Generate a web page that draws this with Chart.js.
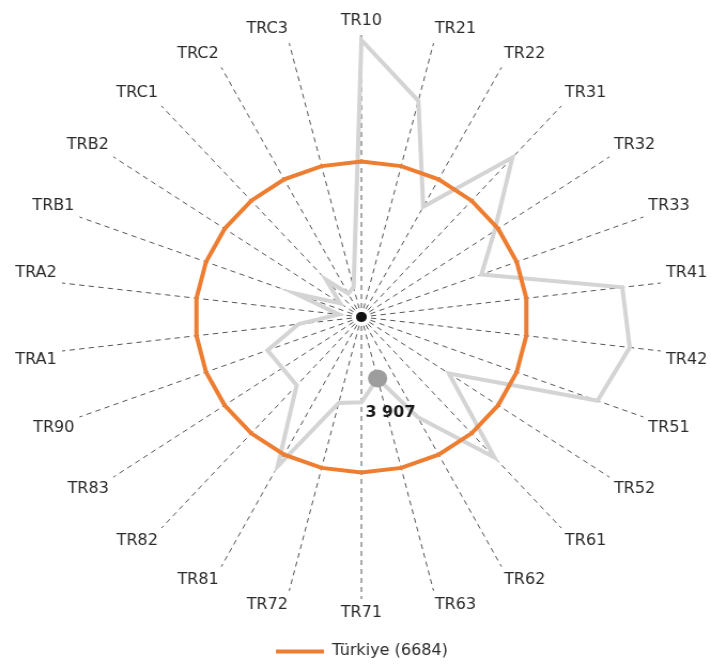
<!DOCTYPE html>
<html>
<head>
<meta charset="utf-8">
<title>Radar</title>
<script src="https://cdn.jsdelivr.net/npm/chart.js@4.4.1/dist/chart.umd.min.js"></script>
<style>
  html, body { margin: 0; padding: 0; background: #ffffff; overflow: hidden; }
</style>
</head>
<body>
<!-- the reference picture is slightly wider than tall, so the canvas gets stretched a bit -->
<canvas id="radarChart" width="665" height="669" style="display:block;width:711px;height:669px"></canvas>
<script>
// DATA
var regions = ["TR10", "TR21", "TR22", "TR31", "TR32", "TR33", "TR41", "TR42", "TR51", "TR52",
               "TR61", "TR62", "TR63", "TR71", "TR72", "TR81", "TR82", "TR83", "TR90", "TRA1",
               "TRA2", "TRB1", "TRB2", "TRC1", "TRC2", "TRC3"];
var regionValues = [10350, 8710, 5750, 8420, 6560, 5620, 9410, 9620, 9120, 5000,
                    7660, 5400, 3907, 4570, 4670, 7080, 4750, 4710, 4830, 3780,
                    2640, 3990, 2730, 3500, 2800, 2920];
var turkeyValue = 6684;
var turkeyLabel = "Türkiye (6684)";
var highlightRegion = "TR63";
var scaleMin = 2000;
var scaleMax = 10500;

var turkeyValues = regions.map(function() { return turkeyValue; });
var highlightIndex = regions.indexOf(highlightRegion);
var pointSizes = regions.map(function(r, i) { return i === highlightIndex ? 9 : 0; });

Chart.defaults.font.family = "'DejaVu Sans', Verdana, sans-serif";
Chart.defaults.color = "#2b2b2b";

//CENTER DOT + VALUE LABEL
var extrasPlugin = {
    id: "extras",
    afterDatasetsDraw: function(chart) {
        var ctx = chart.ctx;
        var scale = chart.scales.r;
        ctx.save();
        ctx.fillStyle = "#111111";
        ctx.beginPath();
        ctx.arc(scale.xCenter, scale.yCenter, 5, 0, Math.PI * 2);
        ctx.fill();

        var pt = chart.getDatasetMeta(1).data[highlightIndex];
        ctx.font = "bold 15px 'DejaVu Sans', Verdana, sans-serif";
        ctx.fillStyle = "#1a1a1a";
        ctx.textAlign = "center";
        ctx.textBaseline = "middle";
        ctx.fillText(regionValues[highlightIndex].toLocaleString("fr-FR").replace(/\s/g, " "), pt.x + 12, pt.y + 35);
        ctx.restore();
    }
};

var ctxRadar = document.getElementById("radarChart").getContext("2d");
var radarChart = new Chart(ctxRadar, {
    type: "radar",
    data: {
        labels: regions,
        datasets: [{
            label: turkeyLabel,
            data: turkeyValues,
            borderColor: "#ed7d31",
            backgroundColor: "#ed7d31",
            borderWidth: 4,
            pointRadius: 0,
            fill: false
        }, {
            label: "Regions",
            data: regionValues,
            borderColor: "#d4d4d4",
            backgroundColor: "#d4d4d4",
            borderWidth: 4,
            pointRadius: pointSizes,
            pointBackgroundColor: "#9d9d9d",
            pointBorderWidth: 0,
            fill: false
        }]
    },
    options: {
        responsive: false,
        animation: false,
        layout: {
            padding: { top: 12, bottom: 0, left: 12, right: 0 }
        },
        scales: {
            r: {
                min: scaleMin,
                max: scaleMax,
                grid: { display: false },
                ticks: { display: false },
                angleLines: {
                    color: "#555555",
                    lineWidth: 1,
                    borderDash: [5, 4]
                },
                pointLabels: {
                    font: { size: 15 },
                    color: "#2b2b2b",
                    padding: 5
                }
            }
        },
        plugins: {
            legend: {
                position: "bottom",
                // empty title only used as spacer above the legend line
                title: {
                    display: true,
                    text: " ",
                    font: { size: 10 },
                    padding: { top: 1, bottom: 2 }
                },
                labels: {
                    boxWidth: 45,
                    boxHeight: 4,
                    padding: 6,
                    font: { size: 15 },
                    color: "#2b2b2b",
                    generateLabels: function(chart) {
                        var items = Chart.defaults.plugins.legend.labels.generateLabels(chart);
                        return items.filter(function(it) { return it.datasetIndex === 0; }).map(function(it) {
                            it.lineWidth = 0;
                            return it;
                        });
                    }
                }
            },
            tooltip: { enabled: false }
        }
    },
    plugins: [extrasPlugin]
});
</script>
</body>
</html>
